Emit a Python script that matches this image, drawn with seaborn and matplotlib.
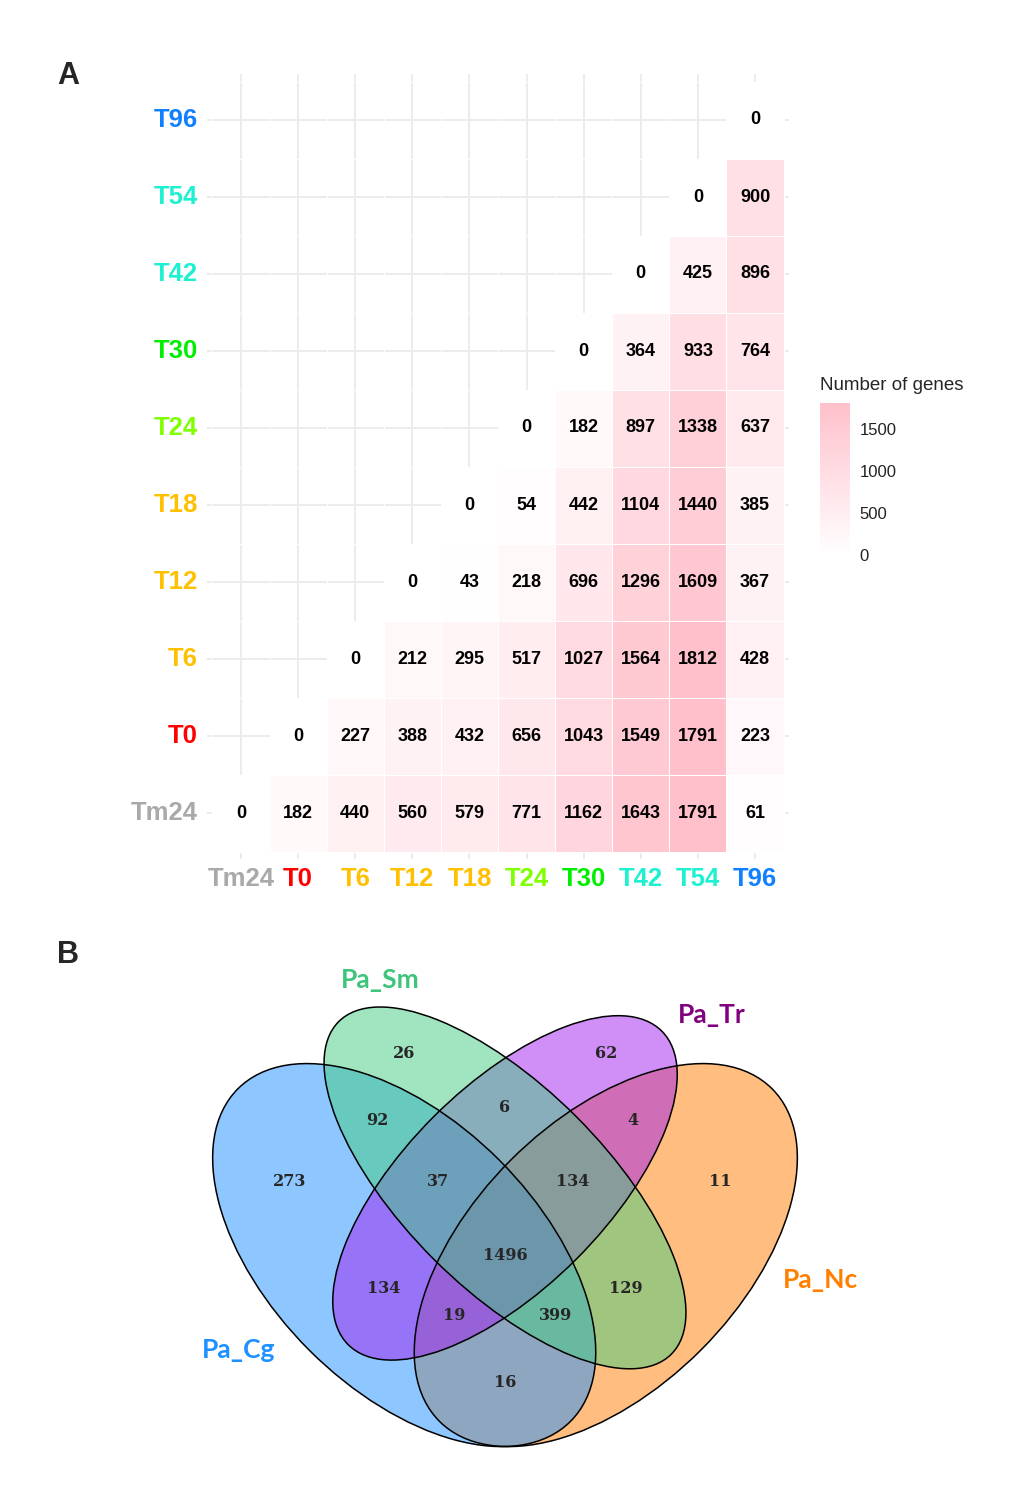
import numpy as np
import pandas as pd
import matplotlib
matplotlib.use("Agg")
import matplotlib.pyplot as plt
from matplotlib.colors import LinearSegmentedColormap
from matplotlib.patches import Ellipse
import seaborn as sns

# ---- panel A: number of genes between time points ----
times = ["Tm24", "T0", "T6", "T12", "T18", "T24", "T30", "T42", "T54", "T96"]
time_colors = ["#A9A9A9", "#FF0000", "#FFC000", "#FFC000", "#FFC000",
               "#7FFF00", "#00EE00", "#1EF0D2", "#1EF0D2", "#1080FF"]
# each row starts at its own diagonal cell
row_Tm24 = [0, 182, 440, 560, 579, 771, 1162, 1643, 1791, 61]
row_T0 = [0, 227, 388, 432, 656, 1043, 1549, 1791, 223]
row_T6 = [0, 212, 295, 517, 1027, 1564, 1812, 428]
row_T12 = [0, 43, 218, 696, 1296, 1609, 367]
row_T18 = [0, 54, 442, 1104, 1440, 385]
row_T24 = [0, 182, 897, 1338, 637]
row_T30 = [0, 364, 933, 764]
row_T42 = [0, 425, 896]
row_T54 = [0, 900]
row_T96 = [0]
cbar_ticks = [0, 500, 1000, 1500]

# ---- panel B: Venn counts ----
set_names = ["Pa_Cg", "Pa_Sm", "Pa_Tr", "Pa_Nc"]
set_fills = ["#1E90FF", "#43CD80", "#A020F0", "#FF7F00"]
set_label_colors = ["#1E90FF", "#3FC47C", "#800080", "#FF7F00"]
# membership code: Cg Sm Tr Nc
regions = ["1000", "0100", "0010", "0001", "1100", "0110", "0011", "1110",
           "0111", "1111", "1010", "0101", "1011", "1101", "1001"]
region_counts = [273, 26, 62, 11, 92, 6, 4, 37, 134, 1496, 134, 129, 19, 399, 16]

W, H = 1035, 1495


def box(x0, y0, x1, y1):
    # pixel box -> figure fraction rect
    return [x0 / W, 1 - y1 / H, (x1 - x0) / W, (y1 - y0) / H]


rows = [row_Tm24, row_T0, row_T6, row_T12, row_T18, row_T24, row_T30, row_T42, row_T54, row_T96]
mat = np.full((len(times), len(times)), np.nan)
for i, r in enumerate(rows):
    mat[i, i:] = r
df = pd.DataFrame(mat, index=times, columns=times).iloc[::-1]

sns.set_style("white")
plt.rcParams["font.family"] = ["Liberation Sans", "DejaVu Sans"]

fig = plt.figure(figsize=(W / 100, H / 100), dpi=100)
ax = fig.add_axes(box(206.7, 73.8, 789.3, 859.2))
cax = fig.add_axes(box(820, 403, 850, 555))

cmap = LinearSegmentedColormap.from_list("pinks", ["#FFFFFF", "#FFC0CB"])
sns.heatmap(df, mask=df.isna(), cmap=cmap, vmin=0, vmax=np.nanmax(mat),
            annot=True, fmt=".0f",
            annot_kws=dict(fontsize=13, fontweight="bold", color="black"),
            linewidths=0.5, linecolor="white", cbar_ax=cax, ax=ax)

ax.set_xlim(-0.1, len(times) + 0.1)
ax.set_ylim(len(times) + 0.1, -0.1)
ax.grid(True, color="#EBEBEB", linewidth=1.3)
ax.set_axisbelow(True)
ax.set_xlabel("")
ax.set_ylabel("")
ax.tick_params(axis="both", length=0)
ax.tick_params(axis="y", pad=6.3)
ax.tick_params(axis="x", pad=5.5)
color_of = dict(zip(times, time_colors))
for lab in ax.get_xticklabels() + ax.get_yticklabels():
    lab.set_color(color_of[lab.get_text()])
    lab.set_fontsize(18.5)
    lab.set_fontweight("bold")
    lab.set_rotation(0)

cbar = ax.collections[0].colorbar
cbar.outline.set_visible(False)
cbar.set_ticks(cbar_ticks)
cax.tick_params(direction="in", color="white", length=4.5, width=1,
                left=True, right=True, labelsize=12, labelcolor="#222222", pad=7)
fig.text(820 / W, 1 - 386 / H, "Number of genes", fontsize=13.5, ha="left", va="center")

# ---- panel B: four-ellipse Venn ----
vax = fig.add_axes(box(169, 899, 841, 1495))
vax.set_xlim(0, 1)
vax.set_ylim(0.1129, 1)
vax.axis("off")

# x, y, semi-major, semi-minor, angle
ell = {
    "Pa_Cg": (0.35, 0.47, 0.35, 0.20, 135),
    "Pa_Sm": (0.50, 0.57, 0.35, 0.15, 135),
    "Pa_Tr": (0.50, 0.57, 0.33, 0.15, 45),
    "Pa_Nc": (0.65, 0.47, 0.35, 0.20, 45),
}
draw_order = ["Pa_Nc", "Pa_Cg", "Pa_Tr", "Pa_Sm"]
fill_of = dict(zip(set_names, set_fills))
for name in draw_order:
    x, y, a, b, ang = ell[name]
    vax.add_patch(Ellipse((x, y), 2 * a, 2 * b, angle=ang, facecolor=fill_of[name],
                          alpha=0.5, edgecolor="none"))
for name in draw_order:
    x, y, a, b, ang = ell[name]
    vax.add_patch(Ellipse((x, y), 2 * a, 2 * b, angle=ang, facecolor="none",
                          edgecolor="black", linewidth=1.1))

region_pos = {
    "1000": (0.18, 0.58), "0100": (0.35, 0.77), "0010": (0.65, 0.77), "0001": (0.82, 0.58),
    "1100": (0.31, 0.67), "0110": (0.50, 0.69), "0011": (0.69, 0.67), "1110": (0.40, 0.58),
    "0111": (0.60, 0.58), "1111": (0.50, 0.47), "1010": (0.32, 0.42), "0101": (0.68, 0.42),
    "1011": (0.425, 0.38), "1101": (0.575, 0.38), "1001": (0.50, 0.28),
}
for code, n in zip(regions, region_counts):
    px, py = region_pos[code]
    vax.text(px, py, str(n), ha="center", va="center", fontsize=11.5,
             fontweight="bold", family="DejaVu Serif")

set_label_pos = {"Pa_Cg": (0.104, 0.329), "Pa_Sm": (0.314, 0.879),
                 "Pa_Tr": (0.808, 0.827), "Pa_Nc": (0.969, 0.433)}
for name, c in zip(set_names, set_label_colors):
    px, py = set_label_pos[name]
    vax.text(px, py, name, ha="center", va="center", fontsize=19,
             fontweight="bold", color=c, family=["Lato", "DejaVu Sans"])

fig.text(68 / W, 1 - 76 / H, "A", fontsize=22, fontweight="bold", ha="center", va="center")
fig.text(68 / W, 1 - 955 / H, "B", fontsize=22, fontweight="bold", ha="center", va="center")

fig.savefig("out.png", dpi=100)
